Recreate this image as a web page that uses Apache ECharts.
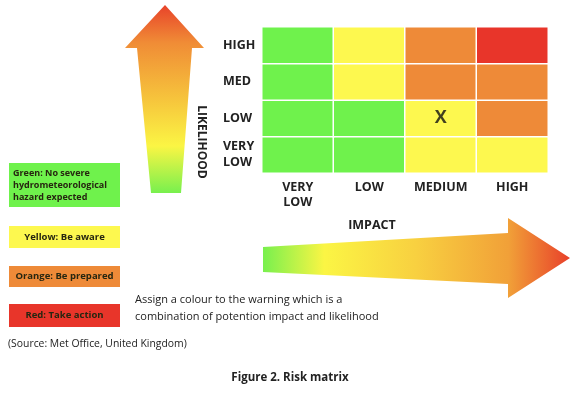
<!DOCTYPE html>
<html>
<head>
<meta charset="utf-8">
<script src="https://cdn.jsdelivr.net/npm/echarts@6/dist/echarts.min.js"></script>
<style>
  html, body { margin: 0; padding: 0; background: #fff; }
  #chart { width: 571px; height: 393px; }
</style>
</head>
<body>
<div id="chart"></div>
<script>
// impact along x, likelihood along y (bottom to top)
var impact = ['VERY\nLOW', 'LOW', 'MEDIUM', 'HIGH']
var likelihood = ['VERY\nLOW', 'LOW', 'MED', 'HIGH']
// warning level per likelihood row: 0 green, 1 yellow, 2 orange, 3 red
var rowVeryLow = [0, 0, 1, 1]
var rowLow = [0, 0, 1, 2]
var rowMed = [0, 1, 2, 2]
var rowHigh = [0, 1, 2, 3]
var marked = [2, 1] // the X cell: impact MEDIUM, likelihood LOW

var levelColors = ['#6ff24c', '#fdf84f', '#ee8a38', '#e8352a']
var legendTexts = ['Green: No severe\nhydrometeorological\nhazard expected', 'Yellow: Be aware', 'Orange: Be prepared', 'Red: Take action']

var FONT = '"Open Sans", "Noto Sans", sans-serif'

var rows = [rowVeryLow, rowLow, rowMed, rowHigh]
var cells = []
rows.forEach(function (row, y) {
  row.forEach(function (level, x) {
    cells.push([x, y, level])
  })
})

var chart = echarts.init(document.getElementById('chart'))

function legendBox (i, top, height) {
  var first = i === 0
  return {
    type: 'rect',
    left: 9,
    top: top,
    shape: { width: 111, height: height },
    style: { fill: levelColors[i] },
    textContent: {
      style: {
        text: legendTexts[i],
        font: 'bold ' + (first ? 9 : 9.5) + 'px ' + FONT,
        fill: '#262610',
        lineHeight: 12,
        align: first ? 'left' : 'center'
      }
    },
    textConfig: { position: first ? 'insideLeft' : 'inside', distance: 4 }
  }
}

chart.setOption({
  backgroundColor: '#fff',
  animation: false,
  grid: { left: 262, top: 27, width: 286, height: 146 },
  xAxis: {
    type: 'category',
    data: impact,
    axisLine: { show: false },
    axisTick: { show: false },
    splitArea: { show: false },
    axisLabel: {
      margin: 7,
      fontFamily: FONT,
      fontWeight: 'bold',
      fontSize: 12.5,
      color: '#222',
      lineHeight: 15,
      verticalAlign: 'top'
    }
  },
  yAxis: {
    type: 'category',
    data: likelihood,
    axisLine: { show: false },
    axisTick: { show: false },
    axisLabel: {
      margin: 39,
      align: 'left',
      fontFamily: FONT,
      fontWeight: 'bold',
      fontSize: 12.5,
      color: '#222',
      lineHeight: 16
    }
  },
  visualMap: {
    show: false,
    type: 'piecewise',
    dimension: 2,
    pieces: levelColors.map(function (c, i) {
      return { value: i, color: c }
    })
  },
  series: [
    {
      type: 'heatmap',
      data: cells,
      itemStyle: { borderColor: '#fff', borderWidth: 1.5 },
      emphasis: { disabled: true }
    },
    {
      type: 'scatter',
      data: [marked],
      symbolSize: 1,
      itemStyle: { color: 'rgba(0,0,0,0)' },
      label: {
        show: true,
        position: 'inside',
        formatter: 'X',
        fontFamily: FONT,
        fontWeight: 'bold',
        fontSize: 18,
        color: '#111'
      }
    }
  ],
  graphic: [
    // likelihood arrow
    {
      type: 'polygon',
      shape: { points: [[165, 5], [204, 48], [192, 48], [181, 193], [151, 193], [137, 48], [125, 48]] },
      style: {
        fill: new echarts.graphic.LinearGradient(0, 0, 0, 1, [
          { offset: 0, color: '#e8432a' },
          { offset: 0.2, color: '#f08c36' },
          { offset: 0.5, color: '#f6c43c' },
          { offset: 0.75, color: '#fbf544' },
          { offset: 1, color: '#78f04e' }
        ])
      }
    },
    {
      type: 'text',
      x: 201,
      y: 142,
      rotation: -Math.PI / 2,
      style: {
        text: 'LIKELIHOOD',
        font: 'bold 12px ' + FONT,
        fill: '#222',
        align: 'center',
        verticalAlign: 'middle'
      }
    },
    // impact arrow
    {
      type: 'polygon',
      shape: { points: [[263, 247], [508, 233], [508, 218], [570, 258], [508, 298], [508, 284], [263, 272]] },
      style: {
        fill: new echarts.graphic.LinearGradient(0, 0, 1, 0, [
          { offset: 0, color: '#78f04e' },
          { offset: 0.2, color: '#fbf544' },
          { offset: 0.5, color: '#f8d040' },
          { offset: 0.8, color: '#f1a038' },
          { offset: 1, color: '#e8402a' }
        ])
      }
    },
    {
      type: 'text',
      x: 372,
      y: 225,
      style: {
        text: 'IMPACT',
        font: 'bold 12.5px ' + FONT,
        fill: '#222',
        align: 'center',
        verticalAlign: 'middle'
      }
    },
    legendBox(0, 163, 44),
    legendBox(1, 226, 22),
    legendBox(2, 266, 21),
    legendBox(3, 304, 23),
    {
      type: 'text',
      x: 135,
      y: 308,
      style: {
        text: 'Assign a colour to the warning which is a\ncombination of potention impact and likelihood',
        font: '11px ' + FONT,
        fill: '#222',
        lineHeight: 17,
        verticalAlign: 'middle'
      }
    },
    {
      type: 'text',
      x: 8,
      y: 344,
      style: {
        text: '(Source: Met Office, United Kingdom)',
        font: '10.4px ' + FONT,
        fill: '#222',
        verticalAlign: 'middle'
      }
    },
    {
      type: 'text',
      x: 290,
      y: 378,
      style: {
        text: 'Figure 2. Risk matrix',
        font: 'bold 11.5px ' + FONT,
        fill: '#222',
        align: 'center',
        verticalAlign: 'middle'
      }
    }
  ]
})
</script>
</body>
</html>
